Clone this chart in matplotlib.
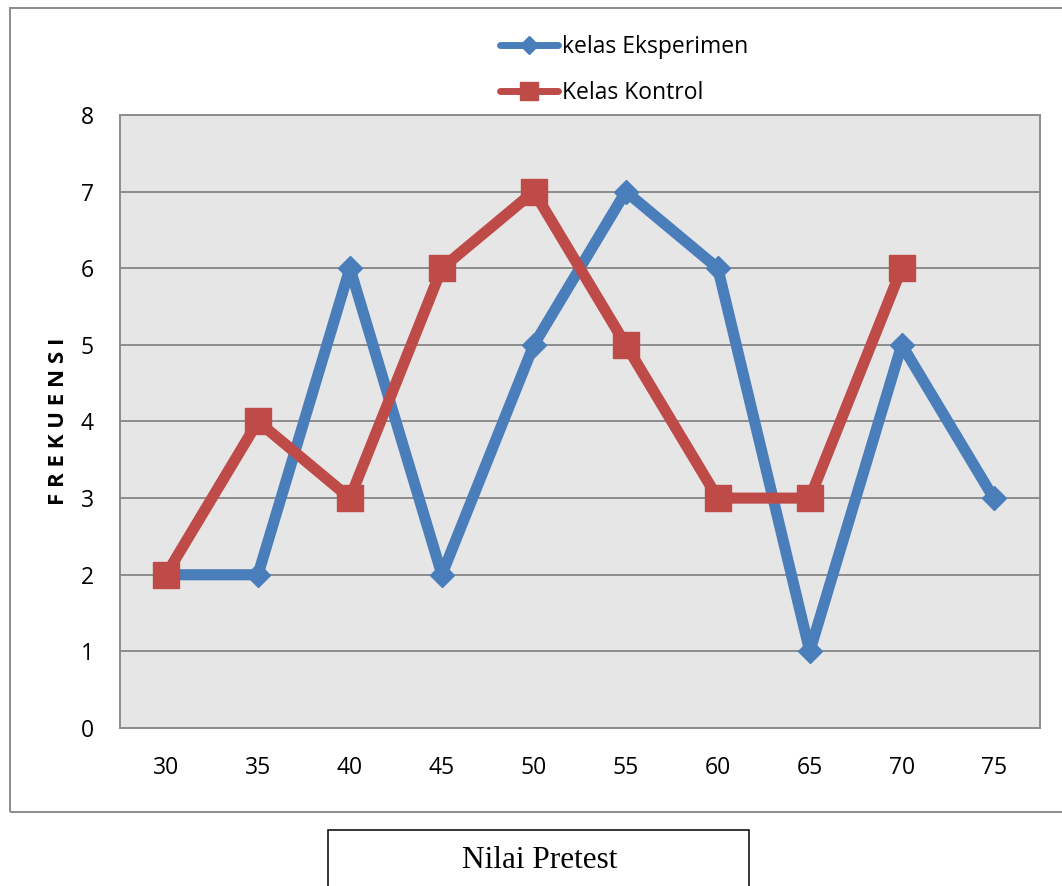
import matplotlib
matplotlib.use("Agg")
import matplotlib.pyplot as plt
from matplotlib.patches import Rectangle

# Pretest score frequencies per class
nilai = ["30", "35", "40", "45", "50", "55", "60", "65", "70", "75"]
eksperimen = [2, 2, 6, 2, 5, 7, 6, 1, 5, 3]
kontrol = [2, 4, 3, 6, 7, 5, 3, 3, 6]

BLUE = "#4A7EBB"
RED = "#BE4B48"
GRID = "#8C8C8C"

plt.rcParams["font.family"] = ["Open Sans", "DejaVu Sans"]

fig = plt.figure(figsize=(10.62, 8.86), dpi=100)
ax = fig.add_axes([0.113, 0.1783, 0.866, 0.692])
ax.set_facecolor("#E6E6E6")

x_exp = list(range(len(eksperimen)))
x_kon = list(range(len(kontrol)))
ax.plot(x_exp, eksperimen, color=BLUE, lw=8, marker="D", ms=12.5,
        solid_joinstyle="round", solid_capstyle="round",
        label="kelas Eksperimen", zorder=3)
ax.plot(x_kon, kontrol, color=RED, lw=8, marker="s", ms=18.5,
        solid_joinstyle="round", solid_capstyle="round",
        label="Kelas Kontrol", zorder=4)

ax.set_xlim(-0.5, len(nilai) - 0.5)
ax.set_ylim(0, 8)
ax.set_xticks(range(len(nilai)))
ax.set_xticklabels(nilai)
ax.set_yticks(range(0, 9))
ax.tick_params(length=0, labelsize=16.5, colors="black")
ax.tick_params(axis="y", pad=19)
ax.tick_params(axis="x", pad=20)
ax.yaxis.grid(True, color=GRID, lw=1.4)
ax.set_axisbelow(True)
for sp in ax.spines.values():
    sp.set_color(GRID)
    sp.set_linewidth(1.4)

ax.set_ylabel("F R E K U E N S I", fontsize=16, fontweight="bold", labelpad=8)

leg = fig.legend(loc="upper left", bbox_to_anchor=(0.4708, 0.961),
                 frameon=False, fontsize=16.5, handlelength=2.55,
                 handletextpad=0.15, labelspacing=0.97, borderpad=0,
                 borderaxespad=0, markerscale=0.7)
for line in leg.get_lines():
    line.set_linewidth(5)

# chart frame
fig.add_artist(Rectangle((0.0094, 0.0835), 1.2, 0.9075, transform=fig.transFigure,
                         fill=False, edgecolor=GRID, lw=1.4))

# axis title box
fig.add_artist(Rectangle((0.3089, -0.1), 0.3964, 0.1632, transform=fig.transFigure,
                         fill=False, edgecolor="black", lw=1.1))
fig.text(0.5085, 0.0293, "Nilai Pretest", ha="center", va="center",
         fontsize=22.5, family=["Liberation Serif", "DejaVu Serif"])

fig.savefig("out.png", dpi=100)
